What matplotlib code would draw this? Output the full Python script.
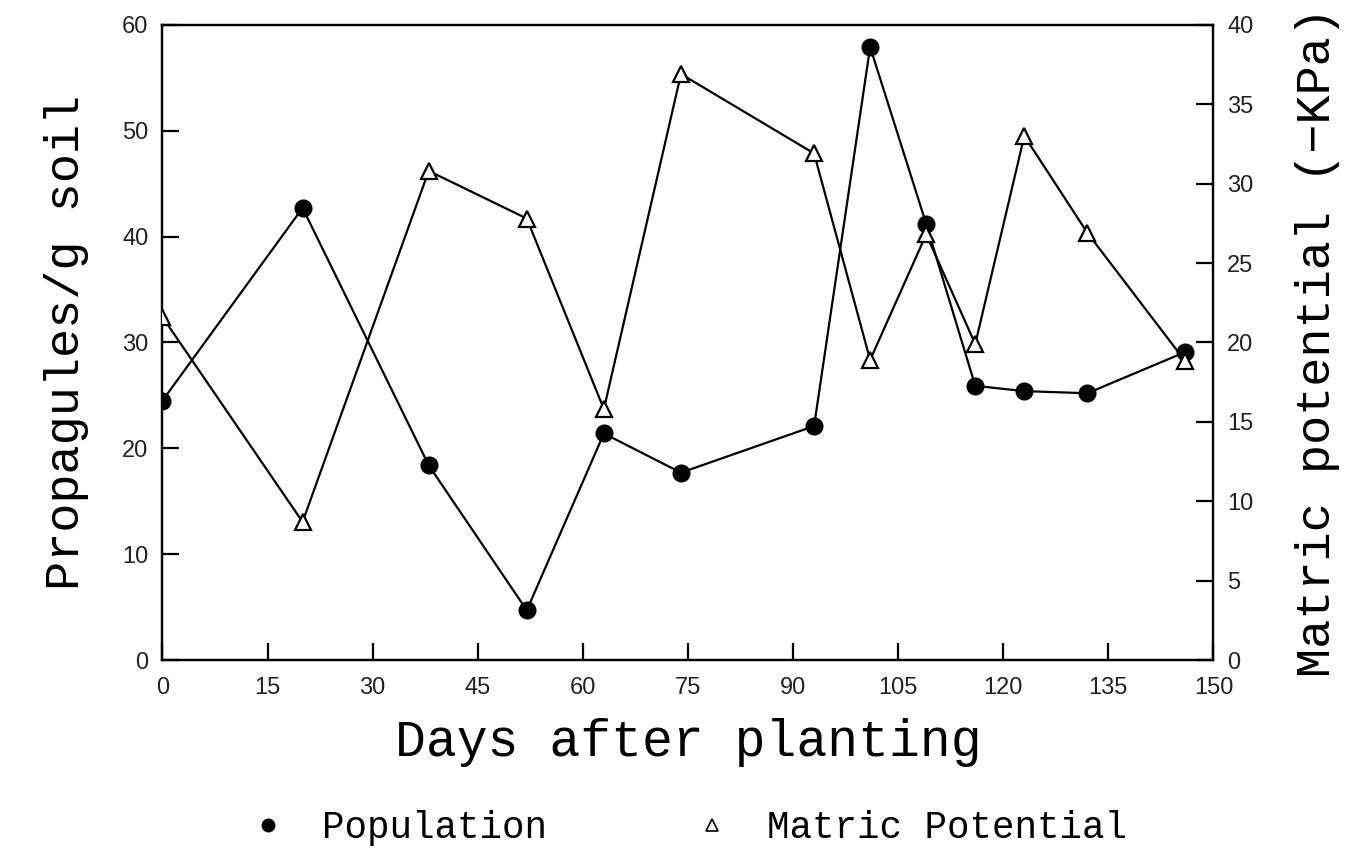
import matplotlib
matplotlib.use("Agg")
import matplotlib.pyplot as plt
from matplotlib.lines import Line2D

# values
pop_days = [0, 20, 38, 52, 63, 74, 93, 101, 109, 116, 123, 132, 146]
population = [24.5, 42.7, 18.4, 4.7, 21.4, 17.7, 22.1, 57.9, 41.2, 25.9, 25.4, 25.2, 29.1]

mp_days = [0, 20, 38, 52, 63, 74, 93, 101, 109, 116, 123, 132, 146]
matric = [21.6, 8.7, 30.8, 27.8, 15.8, 36.9, 31.9, 18.9, 26.8, 19.9, 33.0, 26.9, 18.8]

x_ticks = list(range(0, 151, 15))
left_ticks = list(range(0, 61, 10))
right_ticks = list(range(0, 41, 5))

tick_font = "Liberation Sans"
label_font = "Liberation Mono"


def main():
    fig = plt.figure(figsize=(13.65, 8.55), dpi=100)
    ax = fig.add_axes([0.119, 0.228, 0.770, 0.743])
    ax2 = ax.twinx()

    ax.plot(pop_days, population, '-', color='black', lw=1.6,
            marker='o', markersize=12, markerfacecolor='black', zorder=3)
    ax2.plot(mp_days, matric, '-', color='black', lw=1.6,
             marker='^', markersize=12, markerfacecolor='white',
             markeredgewidth=1.6, zorder=3)

    ax.set_xlim(0, 150)
    ax.set_ylim(0, 60)
    ax2.set_ylim(0, 40)
    ax.set_xticks(x_ticks)
    ax.set_yticks(left_ticks)
    ax2.set_yticks(right_ticks)

    for a in (ax, ax2):
        for s in a.spines.values():
            s.set_linewidth(1.6)
        a.tick_params(direction='in', length=12, width=1.6, labelsize=17)
        a.tick_params(axis='x', pad=12)
        a.tick_params(axis='y', pad=10)
        for lab in a.get_xticklabels() + a.get_yticklabels():
            lab.set_fontfamily(tick_font)
            lab.set_color('#222222')

    ax.set_xlabel('Days after planting', fontsize=37, fontfamily=label_font, labelpad=14)
    ax.set_ylabel('Propagules/g soil', fontsize=35, fontfamily=label_font, labelpad=24)
    ax2.set_ylabel('Matric potential (\u2212KPa)', fontsize=35, fontfamily=label_font,
                   labelpad=30)

    handles = [
        Line2D([], [], ls='none', marker='o', color='black', markersize=9),
        Line2D([], [], ls='none', marker='^', color='black', markerfacecolor='white',
               markersize=8, markeredgewidth=1.2),
    ]
    fig.legend(handles, ['Population', 'Matric Potential'], loc='center',
               bbox_to_anchor=(0.497, 0.032), ncol=2, frameon=False,
               prop={'family': label_font, 'size': 27}, columnspacing=3.4,
               handletextpad=0.45)

    fig.savefig("out.png", dpi=100)


if __name__ == "__main__":
    main()
